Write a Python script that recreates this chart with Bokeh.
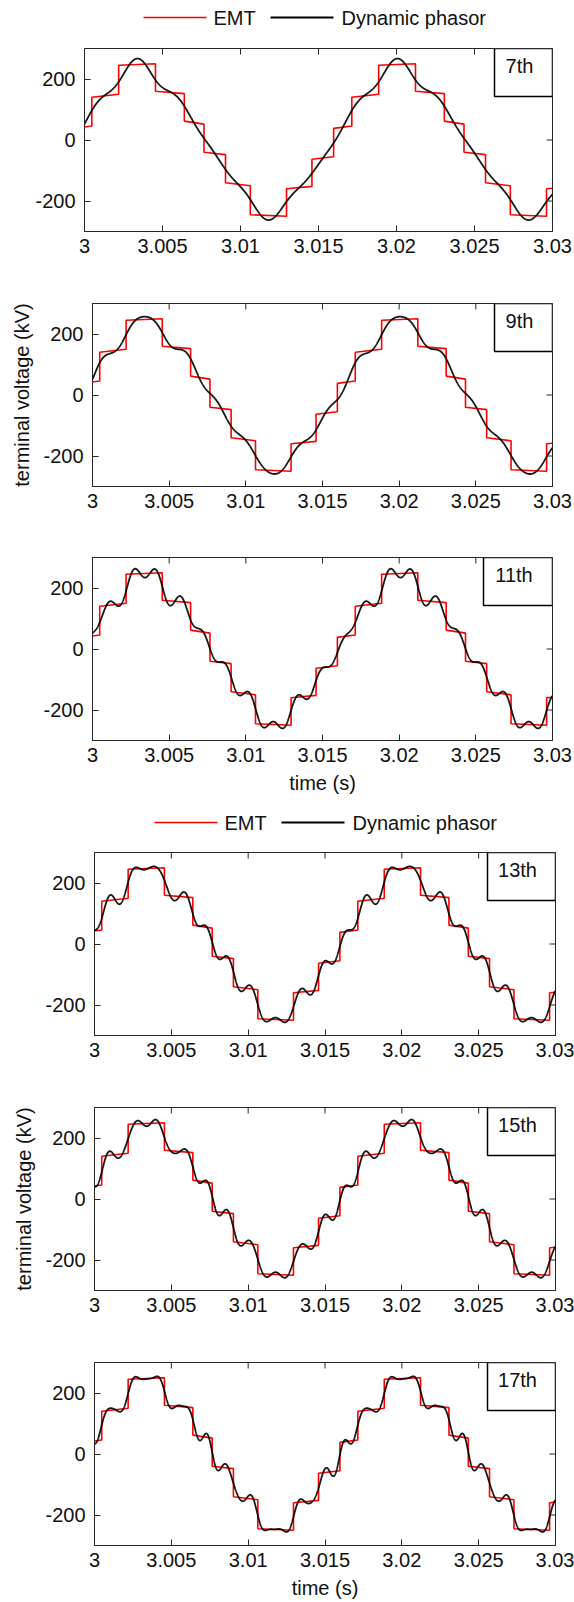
import numpy as np
from bokeh.plotting import figure
from bokeh.models import Range1d, FixedTicker, BoxAnnotation, Label
from bokeh.core.properties import value
from bokeh.layouts import column
from bokeh.embed import file_html
from bokeh.resources import INLINE

# ---------------- data ----------------
period = 1 / 60.0
# EMT staircase: switching instants within one period and the value at the
# start / end of the flat segment that follows each switching instant (kV)
switch_times = [3.00047, 3.00219, 3.00455, 3.00640, 3.00766,
                3.00904, 3.01063, 3.01295, 3.01458, 3.01597]
level_start = [140, 245, 160, 62, -40, -140, -245, -160, -63, 38]
level_end = [150, 250, 152, 52, -48, -150, -250, -152, -55, 46]

harmonic_orders = [7, 9, 11, 13, 15, 17]
harmonic_labels = ["7th", "9th", "11th", "13th", "15th", "17th"]
legend_labels = ["EMT", "Dynamic phasor"]

x_ticks = [3.0, 3.005, 3.01, 3.015, 3.02, 3.025, 3.03]
x_tick_labels = ["3", "3.005", "3.01", "3.015", "3.02", "3.025", "3.03"]
y_ticks = [-200, 0, 200]
y_tick_labels = ["-200", "0", "200"]
t_start, t_end = 3.0, 3.03
y_min, y_max = -300, 300

FONT = "Liberation Sans"
AX = "#262626"
TXT = "#111111"

ts = np.array(switch_times)
ls = np.array(level_start, float)
le = np.array(level_end, float)
nseg = len(ts)
rel = ts - ts[0]
rel_next = np.append(rel[1:], period)


def emt(t):
    t = np.asarray(t, float)
    ph = (t - ts[0]) % period
    idx = np.searchsorted(rel, ph, side="right") - 1
    frac = (ph - rel[idx]) / (rel_next[idx] - rel[idx])
    return ls[idx] + frac * (le[idx] - ls[idx])


# EMT staircase vertices over the window
red_x, red_y = [], []
for k in range(-1, 3):
    for i in range(nseg):
        s = ts[i] + k * period
        e = (ts[i + 1] if i + 1 < nseg else ts[0] + period) + k * period
        if e <= t_start or s >= t_end:
            continue
        s2, e2 = max(s, t_start), min(e, t_end)
        for tt_ in (s2, e2):
            red_x.append(tt_)
            red_y.append(ls[i] + (tt_ - s) / (e - s) * (le[i] - ls[i]))

# dynamic phasor = harmonic content of the EMT waveform up to order n
N = 20000
tp = t_start + np.arange(N) * period / N
vp = emt(tp)
tt = np.linspace(t_start, t_end, 3001)


def phasor(n):
    out = np.full_like(tt, vp.mean())
    for k in range(1, n + 1):
        ck = 2.0 / N * np.sum(vp * np.exp(-2j * np.pi * k * (tp - t_start) / period))
        out += np.real(ck * np.exp(2j * np.pi * k * (tt - t_start) / period))
    return out


# ---------------- layout ----------------
panel_layout = [
    dict(height=248, top=16, left=84, right=22, box_px=58, ylab=False, xlab=False),
    dict(height=252, top=23, left=92, right=22, box_px=58, ylab=True, xlab=False),
    dict(height=273, top=25, left=92, right=22, box_px=69, ylab=False, xlab=True),
    dict(height=242, top=14, left=94, right=19, box_px=68, ylab=False, xlab=False),
    dict(height=255, top=27, left=94, right=19, box_px=68, ylab=True, xlab=False),
    dict(height=267, top=27, left=94, right=19, box_px=68, ylab=False, xlab=True),
]
FRAME_H = 183
W = 574
TICK_PX = 6


def legend_fig(h, yc, red_x0, blk_x0):
    p = figure(width=W, height=h, x_range=Range1d(0, W), y_range=Range1d(0, h),
               x_axis_type=None, y_axis_type=None, toolbar_location=None,
               output_backend="svg", min_border=0, min_border_left=0,
               min_border_right=0, min_border_top=0, min_border_bottom=0,
               outline_line_color=None)
    p.grid.visible = False
    y = h - yc
    p.line([red_x0, red_x0 + 63], [y, y], line_color="red", line_width=1.6)
    p.text(x=[red_x0 + 70], y=[y], text=[legend_labels[0]], text_baseline="middle",
           text_align="left", text_font=value(FONT), text_font_size="20px",
           text_color=TXT)
    p.line([blk_x0, blk_x0 + 63], [y, y], line_color="black", line_width=1.8)
    p.text(x=[blk_x0 + 71], y=[y], text=[legend_labels[1]], text_baseline="middle",
           text_align="left", text_font=value(FONT), text_font_size="20px",
           text_color=TXT)
    return p


def panel(i):
    L = panel_layout[i]
    bottom = L["height"] - L["top"] - FRAME_H
    frame_w = W - L["left"] - L["right"]
    p = figure(width=W, height=L["height"], x_range=Range1d(t_start, t_end),
               y_range=Range1d(y_min, y_max), toolbar_location=None,
               output_backend="svg", min_border_left=L["left"],
               min_border_right=L["right"], min_border_top=L["top"],
               min_border_bottom=bottom, outline_line_color=AX,
               outline_line_width=1)
    p.grid.visible = False
    p.line(red_x, red_y, line_color="red", line_width=1.6)
    p.line(tt, phasor(harmonic_orders[i]), line_color="black", line_width=1.8,
           line_alpha=0.9)

    # inward ticks on the top and right edges of the box
    dy = TICK_PX / FRAME_H * (y_max - y_min)
    dx = TICK_PX / frame_w * (t_end - t_start)
    p.segment(x0=x_ticks, y0=[y_max] * len(x_ticks), x1=x_ticks,
              y1=[y_max - dy] * len(x_ticks), line_color=AX, line_width=1)
    p.segment(x0=[t_end] * len(y_ticks), y0=y_ticks, x1=[t_end - dx] * len(y_ticks),
              y1=y_ticks, line_color=AX, line_width=1)

    xa = p.xaxis[0]
    xa.ticker = FixedTicker(ticks=x_ticks)
    xa.major_label_overrides = dict(zip(x_ticks, x_tick_labels))
    ya = p.yaxis[0]
    ya.ticker = FixedTicker(ticks=y_ticks)
    ya.major_label_overrides = dict(zip(y_ticks, y_tick_labels))
    for ax in (xa, ya):
        ax.major_tick_in = TICK_PX
        ax.major_tick_out = 0
        ax.minor_tick_line_color = None
        ax.axis_line_color = AX
        ax.major_tick_line_color = AX
        ax.major_label_text_font = FONT
        ax.major_label_text_font_size = "20px"
        ax.major_label_text_color = TXT
        ax.axis_label_text_font = FONT
        ax.axis_label_text_font_size = "20px"
        ax.axis_label_text_font_style = "normal"
        ax.axis_label_text_color = TXT
    xa.major_label_standoff = 7
    ya.major_label_standoff = 9
    if L["xlab"]:
        xa.axis_label = "time (s)"
        xa.axis_label_standoff = 7
    if L["ylab"]:
        ya.axis_label = "terminal voltage (kV)"
        ya.axis_label_standoff = 7

    box_w = L["box_px"] / frame_w * (t_end - t_start)
    box_h = 48 / FRAME_H * (y_max - y_min)
    p.add_layout(BoxAnnotation(left=t_end - box_w, right=t_end, bottom=y_max - box_h,
                               top=y_max, fill_color="white", fill_alpha=1,
                               line_color="black", line_width=1.5, line_alpha=1))
    p.add_layout(Label(x=t_end - box_w / 2, y=y_max - 57, x_offset=-4,
                       text=harmonic_labels[i], text_align="center",
                       text_baseline="middle", text_font=FONT,
                       text_font_size="20px", text_color=TXT))
    return p


children = [legend_fig(32, 17, 143, 270), panel(0), panel(1), panel(2),
            legend_fig(33, 17, 154, 281), panel(3), panel(4), panel(5)]
# wrap each figure separately so the frames are not aligned with one another
lay = column([column([c], spacing=0) for c in children], spacing=0)

open("out.html", "w").write(file_html(lay, INLINE))
